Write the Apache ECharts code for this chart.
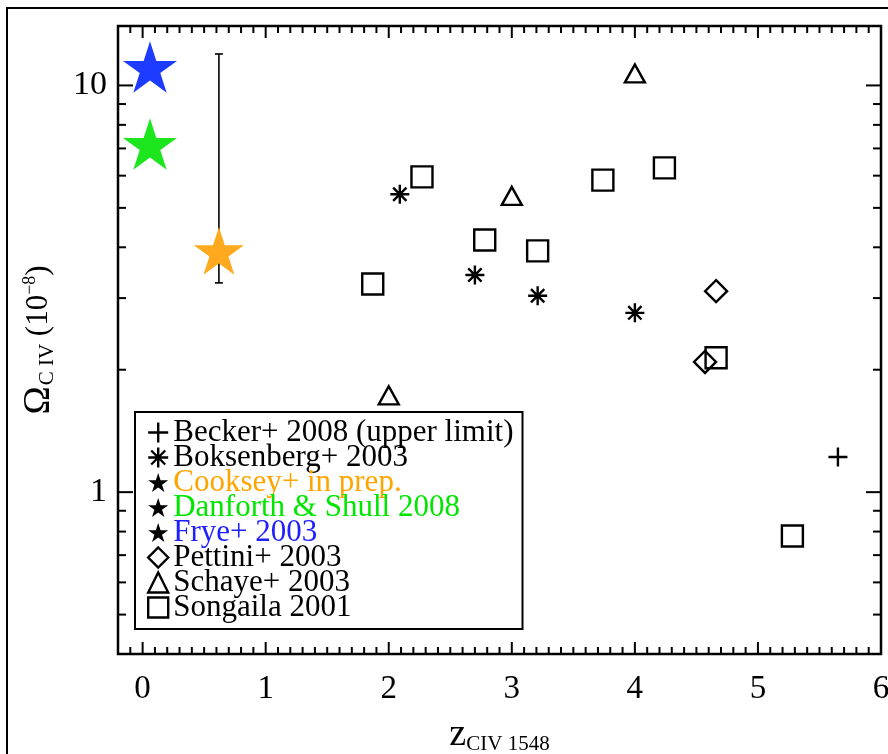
<!DOCTYPE html>
<html><head><meta charset="utf-8">
<script src="https://cdn.jsdelivr.net/npm/echarts@6/dist/echarts.min.js"></script>
<style>html,body{margin:0;padding:0;background:#fff}#c{width:888px;height:754px}</style>
</head><body><div id="c"></div>
<script>
// ---- axis ticks / labels ----
const xTickLabels = [0, 1, 2, 3, 4, 5, 6];
const xMinorTicks = [-0.1,0.1,0.2,0.3,0.4,0.5,0.6,0.7,0.8,0.9,1.1,1.2,1.3,1.4,1.5,1.6,1.7,1.8,1.9,2.1,2.2,2.3,2.4,2.5,2.6,2.7,2.8,2.9,3.1,3.2,3.3,3.4,3.5,3.6,3.7,3.8,3.9,4.1,4.2,4.3,4.4,4.5,4.6,4.7,4.8,4.9,5.1,5.2,5.3,5.4,5.5,5.6,5.7,5.8,5.9];
const yTickLabels = [1, 10];
const yMinorTicks = [0.5,0.6,0.7,0.8,0.9,2,3,4,5,6,7,8,9];
const xMin = -0.2, xMax = 6, yMin = 0.4, yMax = 14;

// ---- data ----
const beckerX = [5.65];            const beckerY = [1.22];
const boksenbergX = [2.09, 2.70, 3.21, 4.00];
const boksenbergY = [5.40, 3.42, 3.04, 2.76];
const cookseyX = [0.62];           const cookseyY = [3.92];
const cookseyErrLow = [3.27];      const cookseyErrHigh = [11.95];
const danforthX = [0.06];          const danforthY = [7.18];
const fryeX = [0.06];              const fryeY = [11.1];
const pettiniX = [4.66, 4.57];     const pettiniY = [3.12, 2.09];
const schayeX = [4.00, 3.00, 2.00];
const schayeY = [10.7, 5.35, 1.73];
const songailaX = [2.27, 2.78, 3.21, 1.87, 3.74, 4.24, 4.66, 5.28];
const songailaY = [5.96, 4.17, 3.92, 3.25, 5.85, 6.27, 2.14, 0.78];

const names = ['Becker+ 2008 (upper limit)', 'Boksenberg+ 2003', 'Cooksey+ in prep.',
  'Danforth & Shull 2008', 'Frye+ 2003', 'Pettini+ 2003', 'Schaye+ 2003', 'Songaila 2001'];

const FONT = "'Liberation Serif', 'DejaVu Serif', serif";
const starPath = 'path://M0,-1 L0.2245,-0.309 L0.951,-0.309 L0.363,0.118 L0.588,0.809 L0,0.382 L-0.588,0.809 L-0.363,0.118 L-0.951,-0.309 L-0.2245,-0.309 Z';
const plusPath = 'path://M10,0 L10,20 M0,10 L20,10';
const astPath = 'path://M10,0 L10,20 M0,10 L20,10 M3,3 L17,17 M17,3 L3,17';
const pairs = (xs, ys) => xs.map((x, i) => [x, ys[i]]);
const hollow = {color: 'rgba(0,0,0,0)', borderColor: '#000', borderWidth: 2.4, opacity: 1};
const lt = c => ({fontFamily: FONT, fontSize: 31, color: c, lineHeight: 25});

function tickSeries(vals, axis, len) {
  return {
    type: 'custom', silent: true, clip: false, z: 2,
    data: vals.map(v => axis === 'x' ? [v, yMin] : [xMin, v]),
    renderItem: (params, api) => {
      const cs = params.coordSys;
      const p = api.coord([api.value(0), api.value(1)]);
      const st = {stroke: '#000', lineWidth: 2};
      if (axis === 'x') {
        const b = cs.y + cs.height, t = cs.y;
        return {type: 'group', children: [
          {type: 'line', shape: {x1: p[0], y1: b, x2: p[0], y2: b - len}, style: st},
          {type: 'line', shape: {x1: p[0], y1: t, x2: p[0], y2: t + len}, style: st}]};
      }
      const l = cs.x, r = cs.x + cs.width;
      return {type: 'group', children: [
        {type: 'line', shape: {x1: l, y1: p[1], x2: l + len, y2: p[1]}, style: st},
        {type: 'line', shape: {x1: r, y1: p[1], x2: r - len, y2: p[1]}, style: st}]};
    }
  };
}

const chart = echarts.init(document.getElementById('c'), null, {renderer: 'canvas'});
chart.setOption({
  animation: false,
  backgroundColor: '#fff',
  graphic: [{type: 'rect', shape: {x: 7, y: 8, width: 1000, height: 1000},
    style: {fill: 'none', stroke: '#000', lineWidth: 2}, z: -10, silent: true}],
  grid: {left: 118, right: 7, top: 26, bottom: 100, show: true, containLabel: false,
    outerBoundsMode: 'none',
    borderColor: '#000', borderWidth: 2.5, backgroundColor: 'rgba(0,0,0,0)'},
  xAxis: {
    type: 'value', min: xMin, max: xMax,
    axisLine: {show: false}, axisTick: {show: false}, splitLine: {show: false},
    axisLabel: {color: '#000', fontFamily: FONT, fontSize: 33, margin: 19,
      formatter: v => xTickLabels.some(t => Math.abs(t - v) < 1e-9) ? String(Math.round(v)) : ''},
    name: '{z|z}{s|CIV 1548}', nameLocation: 'middle', nameGap: 62,
    nameTextStyle: {rich: {
      z: {fontFamily: FONT, fontSize: 38, color: '#000', verticalAlign: 'middle'},
      s: {fontFamily: FONT, fontSize: 21, color: '#000', verticalAlign: 'middle', padding: [18, 0, 0, 0]}}}
  },
  yAxis: {
    type: 'log', logBase: 10, min: yMin, max: yMax,
    axisLine: {show: false}, axisTick: {show: false}, splitLine: {show: false}, minorTick: {show: false},
    axisLabel: {color: '#000', fontFamily: FONT, fontSize: 34, margin: 11,
      formatter: v => yTickLabels.some(t => Math.abs(t - v) < 1e-6) ? String(Math.round(v)) : ''},
    name: '{o|Ω}{s|C IV}{n| (10}{p|−8}{n|)}', nameLocation: 'middle', nameRotate: 90, nameGap: 60,
    nameTextStyle: {rich: {
      o: {fontFamily: FONT, fontSize: 38, color: '#000', verticalAlign: 'middle'},
      s: {fontFamily: FONT, fontSize: 21, color: '#000', verticalAlign: 'middle', padding: [17, 0, 0, 1]},
      n: {fontFamily: FONT, fontSize: 31, color: '#000', verticalAlign: 'middle'},
      p: {fontFamily: FONT, fontSize: 18, color: '#000', verticalAlign: 'middle', padding: [0, 0, 17, 0]}}}
  },
  legend: {
    orient: 'vertical', left: 135, top: 412, padding: [5, 9, 6, 12], itemGap: -6,
    itemWidth: 20, itemHeight: 20, selectedMode: false, z: 10,
    borderColor: '#000', borderWidth: 2, backgroundColor: '#fff', borderRadius: 0,
    textStyle: lt('#000'),
    data: [
      {name: names[0], icon: plusPath, itemStyle: hollow, textStyle: lt('#000')},
      {name: names[1], icon: astPath, itemStyle: hollow, textStyle: lt('#000')},
      {name: names[2], icon: starPath, itemStyle: {color: '#000', borderWidth: 0, opacity: 1}, textStyle: lt('#ffa500')},
      {name: names[3], icon: starPath, itemStyle: {color: '#000', borderWidth: 0, opacity: 1}, textStyle: lt('#00e600')},
      {name: names[4], icon: starPath, itemStyle: {color: '#000', borderWidth: 0, opacity: 1}, textStyle: lt('#2020ff')},
      {name: names[5], icon: 'diamond', itemStyle: hollow, textStyle: lt('#000')},
      {name: names[6], icon: 'triangle', itemStyle: hollow, textStyle: lt('#000')},
      {name: names[7], icon: 'rect', itemStyle: hollow, textStyle: lt('#000')}
    ]
  },
  series: [
    tickSeries(xTickLabels, 'x', 12),
    tickSeries(xMinorTicks, 'x', 7),
    tickSeries(yTickLabels, 'y', 15),
    tickSeries(yMinorTicks, 'y', 8),
    {
      type: 'custom', name: 'Cooksey error', silent: true, z: 3,
      data: cookseyX.map((x, i) => [x, cookseyErrLow[i], cookseyErrHigh[i]]),
      encode: {x: 0, y: [1, 2]},
      renderItem: (params, api) => {
        const lo = api.coord([api.value(0), api.value(1)]);
        const hi = api.coord([api.value(0), api.value(2)]);
        const st = {stroke: '#000', lineWidth: 1.6};
        return {type: 'group', children: [
          {type: 'line', shape: {x1: lo[0], y1: lo[1], x2: hi[0], y2: hi[1]}, style: st},
          {type: 'line', shape: {x1: lo[0] - 4, y1: lo[1], x2: lo[0] + 4, y2: lo[1]}, style: st},
          {type: 'line', shape: {x1: hi[0] - 4, y1: hi[1], x2: hi[0] + 4, y2: hi[1]}, style: st}]};
      }
    },
    {type: 'scatter', name: names[0], data: pairs(beckerX, beckerY), symbol: plusPath, symbolSize: 19, itemStyle: hollow, z: 4},
    {type: 'scatter', name: names[1], data: pairs(boksenbergX, boksenbergY), symbol: astPath, symbolSize: 19, itemStyle: hollow, z: 4},
    {type: 'scatter', name: names[2], data: pairs(cookseyX, cookseyY), symbol: starPath, symbolSize: 50, symbolKeepAspect: true, itemStyle: {color: '#ffaa1e', opacity: 1}, z: 4},
    {type: 'scatter', name: names[3], data: pairs(danforthX, danforthY), symbol: starPath, symbolSize: 54, symbolKeepAspect: true, itemStyle: {color: '#1ee61e', opacity: 1}, z: 4},
    {type: 'scatter', name: names[4], data: pairs(fryeX, fryeY), symbol: starPath, symbolSize: 54, symbolKeepAspect: true, itemStyle: {color: '#1e3cff', opacity: 1}, z: 4},
    {type: 'scatter', name: names[5], data: pairs(pettiniX, pettiniY), symbol: 'diamond', symbolSize: [22, 22], itemStyle: hollow, z: 4},
    {type: 'scatter', name: names[6], data: pairs(schayeX, schayeY), symbol: 'triangle', symbolSize: [20, 18], itemStyle: hollow, z: 4},
    {type: 'scatter', name: names[7], data: pairs(songailaX, songailaY), symbol: 'rect', symbolSize: 21, itemStyle: hollow, z: 4}
  ]
});
</script></body></html>
